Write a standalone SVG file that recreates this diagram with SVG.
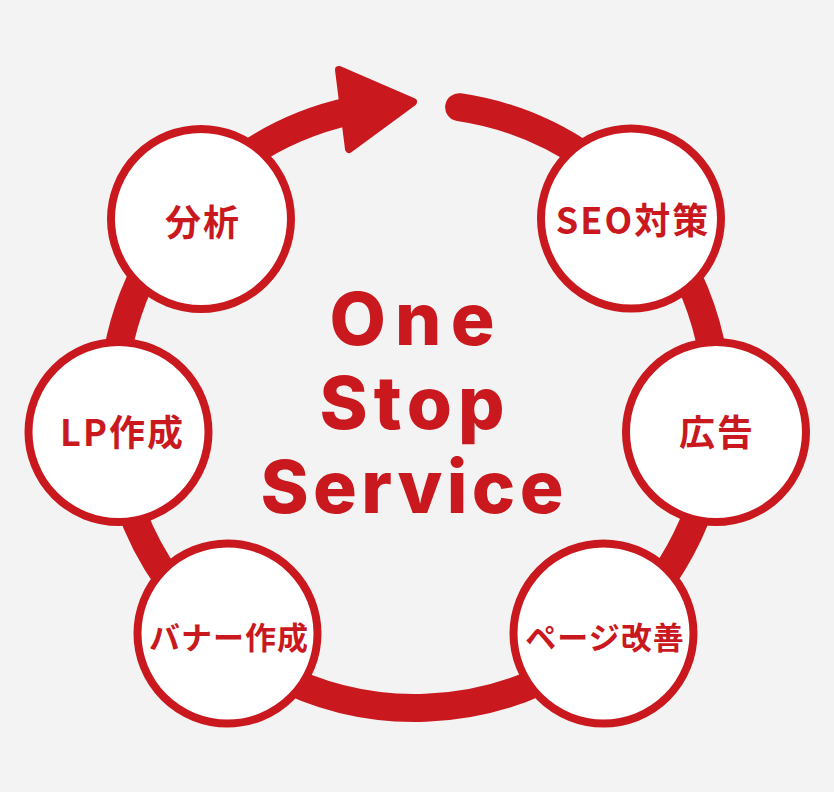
<svg xmlns="http://www.w3.org/2000/svg" width="834" height="792" viewBox="0 0 834 792">
  <style>
    .bg { fill: #f3f3f3; }
    .ring { fill: none; stroke: #c9191e; stroke-width: 28; stroke-linecap: round; }
    .head { fill: #c9191e; stroke: #c9191e; stroke-width: 8; stroke-linejoin: round; }
    .node circle { fill: #ffffff; stroke: #c9191e; stroke-width: 8; }
    .lbl { fill: #c9191e; font-family: "Noto Sans CJK JP", "Noto Sans", sans-serif; font-weight: 700; text-anchor: middle; }
    .big { font-size: 36px; letter-spacing: 2px; }
    .small { font-size: 31px; letter-spacing: 1px; }
    .title { fill: #c9191e; font-family: Inter, Lato, "Noto Sans", sans-serif; font-weight: 800; font-size: 73px; text-anchor: middle; }
  </style>
  <rect class="bg" x="0" y="0" width="834" height="792"/>
  <g id="connectors">
    <path class="ring" d="M 459.1 107.2 A 302 302 0 1 1 350.1 111.0"/>
    <polygon class="head" points="339,70 413,102 349,149"/>
  </g>
  <g id="node-bunseki" class="node">
    <circle cx="201" cy="219" r="90"/>
    <text class="lbl big" x="203" y="235.5">分析</text>
  </g>
  <g id="node-seo" class="node">
    <circle cx="631" cy="218.5" r="90"/>
    <text class="lbl big" x="633" y="234">SEO対策</text>
  </g>
  <g id="node-lp" class="node">
    <circle cx="118.5" cy="432" r="90"/>
    <text class="lbl big" x="122.5" y="446">LP作成</text>
  </g>
  <g id="node-koukoku" class="node">
    <circle cx="716" cy="432" r="90"/>
    <text class="lbl big" x="717" y="446">広告</text>
  </g>
  <g id="node-banner" class="node">
    <circle cx="227.5" cy="633.5" r="90"/>
    <text class="lbl small" x="229" y="648.5">バナー作成</text>
  </g>
  <g id="node-page" class="node">
    <circle cx="603.5" cy="633.5" r="90"/>
    <text class="lbl small" x="605" y="648.5">ページ改善</text>
  </g>
  <g id="center-title">
    <text class="title" x="412" y="345" textLength="165" lengthAdjust="spacing">One</text>
    <text class="title" x="412" y="429" textLength="185" lengthAdjust="spacing">Stop</text>
    <text class="title" x="412" y="513" textLength="303" lengthAdjust="spacing">Service</text>
  </g>
</svg>
